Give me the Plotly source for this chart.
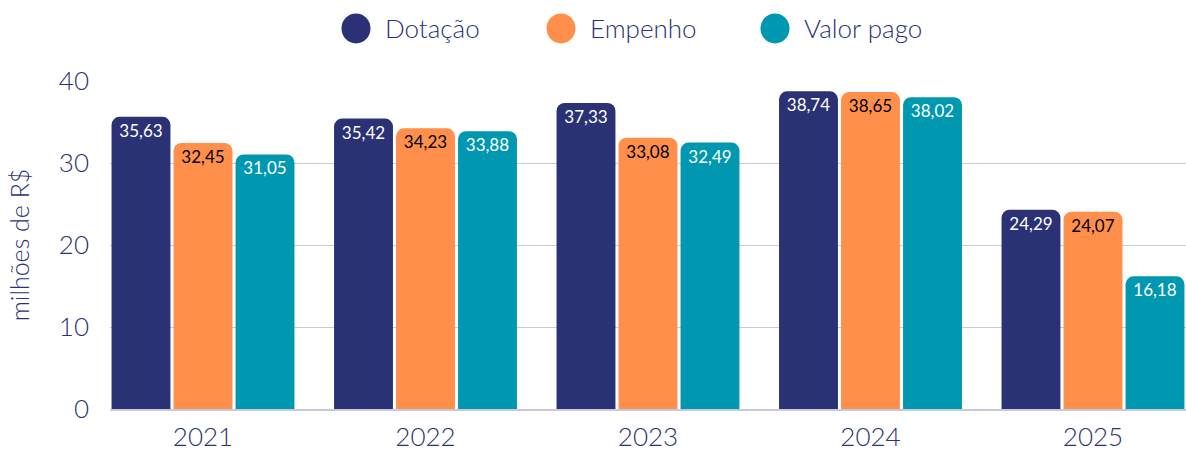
import plotly.graph_objects as go

anos = ["2021", "2022", "2023", "2024", "2025"]
dotacao = [35.63, 35.42, 37.33, 38.74, 24.29]
empenho = [32.45, 34.23, 33.08, 38.65, 24.07]
valor_pago = [31.05, 33.88, 32.49, 38.02, 16.18]

series = [
    ("Dotação", dotacao, "#2a3275", "white"),
    ("Empenho", empenho, "#ff8f4b", "black"),
    ("Valor pago", valor_pago, "#0098b0", "white"),
]

FONT = "Lato"
NAVY = "#2a3275"
W, H = 1186, 452
ML, MR, MT, MB = 110, 0, 81, 40

def fmt(v):
    return f"{v:.2f}".replace(".", ",")

fig = go.Figure()
for nome, vals, cor, cor_txt in series:
    fig.add_trace(go.Bar(
        x=anos, y=vals, name=nome,
        marker=dict(color=cor, cornerradius=8, line=dict(width=0)),
        text=[fmt(v) for v in vals],
        textposition="inside", insidetextanchor="end",
        textangle=0,
        textfont=dict(family=FONT, size=17, color=cor_txt, weight=400),
        showlegend=False, hoverinfo="skip",
    ))

# legend row drawn as circles + labels above the plot area
pw, ph = W - ML - MR, H - MT - MB
def px_x(p):
    return (p - ML) / pw
def px_y(p):
    return (H - MB - p) / ph

leg_cx = [356, 561, 775]
leg_cy = 28
for (nome, _, cor, _), cx in zip(series, leg_cx):
    fig.add_shape(type="circle", xref="paper", yref="paper",
                  xsizemode="pixel", ysizemode="pixel",
                  xanchor=px_x(cx), yanchor=px_y(leg_cy),
                  x0=-14.5, x1=14.5, y0=-15, y1=15,
                  fillcolor=cor, line=dict(width=0))
    fig.add_annotation(text=nome, xref="paper", yref="paper",
                       x=px_x(cx + 27), y=px_y(leg_cy), xanchor="left", yanchor="middle",
                       showarrow=False, font=dict(family=FONT, size=26, color=NAVY, weight=300))

fig.update_layout(
    width=W, height=H,
    margin=dict(l=ML, r=MR, t=MT, b=MB),
    paper_bgcolor="white", plot_bgcolor="white",
    barmode="group", bargap=0.164, bargroupgap=0.05,
    showlegend=False,
    font=dict(family=FONT, color=NAVY),
    xaxis=dict(range=[-0.418, 4.418], showgrid=False, showline=True, linecolor="#c8c9dc",
               linewidth=2, tickfont=dict(size=26, color=NAVY, weight=300), ticks="",
               ticklabelstandoff=4),
    yaxis=dict(range=[0, 40], dtick=10, showgrid=True, gridcolor="#c8c9dc", gridwidth=1.2,
               zeroline=False, showline=False, tickfont=dict(size=26, color=NAVY, weight=300),
               ticklabelstandoff=20,
               title=dict(text="milhões de R$", font=dict(size=25, color=NAVY, weight=300),
                          standoff=22)),
)

fig.write_html("out.html")
